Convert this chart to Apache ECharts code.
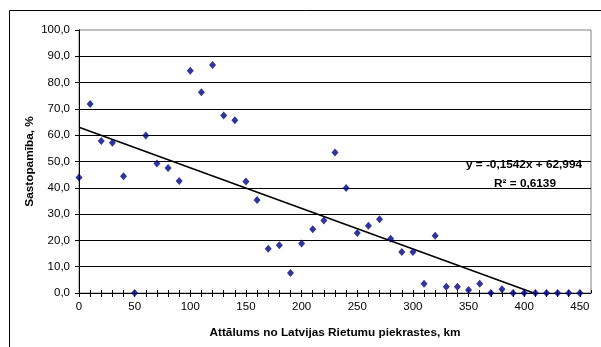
<!DOCTYPE html>
<html><head><meta charset="utf-8">
<script src="https://cdn.jsdelivr.net/npm/echarts@6/dist/echarts.min.js"></script>
<style>html,body{margin:0;padding:0;background:#fff}#c{width:601px;height:347px}</style>
</head><body><div id="c"></div>
<script>
const distances = [0,10,20,30,40,50,60,70,80,90,100,110,120,130,140,150,160,170,180,190,200,210,220,230,240,250,260,270,280,290,300,310,320,330,340,350,360,370,380,390,400,410,420,430,440,450];
const occurrence = [43.9,71.9,57.8,57.1,44.4,0,59.9,49.2,47.5,42.6,84.5,76.3,86.7,67.5,65.7,42.4,35.4,16.8,18.2,7.6,18.8,24.2,27.6,53.4,39.9,22.8,25.6,28.0,20.6,15.6,15.6,3.5,21.8,2.4,2.4,1.1,3.5,0,1.4,0,0,0,0,0,0,0];
const xTickLabels = ['0','50','100','150','200','250','300','350','400','450'];
const trendSlope = -0.1542;
const trendIntercept = 62.994;
const trendR2 = '0,6139';
const equationText = 'y = -0,1542x + 62,994';
const xTitle = 'Attālums no Latvijas Rietumu piekrastes, km';
const yTitle = 'Sastopamība, %';

const FONT = '"Liberation Sans", Arial, sans-serif';
const points = distances.map((d, i) => [d, occurrence[i]]);
const xZero = -trendIntercept / trendSlope;
const trendData = [[0, trendIntercept], [xZero, 0]];

const chart = echarts.init(document.getElementById('c'), null, {renderer: 'canvas'});
chart.setOption({
  animation: false,
  backgroundColor: '#fff',
  grid: {left: 79, right: 10, top: 30, bottom: 54, show: true, borderColor: '#808080', borderWidth: 1, backgroundColor: 'transparent'},
  xAxis: [{
    type: 'value', min: 0, max: 460, interval: 10,
    axisLine: {show: true, onZero: false, lineStyle: {color: '#000', width: 1}},
    axisTick: {show: true, length: 4, inside: false, lineStyle: {color: '#000'}},
    axisLabel: {
      margin: 8, color: '#000', fontFamily: FONT, fontSize: 11.5,
      showMaxLabel: false,
      formatter: v => (v % 50 === 0 && xTickLabels.indexOf(String(v)) >= 0) ? String(v) : ''
    },
    splitLine: {show: false},
    name: xTitle, nameLocation: 'middle', nameGap: 34, nameMoveOverlap: false,
    nameTextStyle: {fontFamily: FONT, fontSize: 11.8, fontWeight: 'bold', color: '#000'}
  }, {
    type: 'value', min: 0, max: 460, interval: 10, position: 'bottom',
    axisLine: {show: false, onZero: false},
    axisTick: {show: true, length: 3, inside: true, lineStyle: {color: '#000'}},
    axisLabel: {show: false},
    splitLine: {show: false}
  }],
  yAxis: {
    type: 'value', min: 0, max: 100, interval: 10,
    axisLine: {show: true, onZero: false, lineStyle: {color: '#000', width: 1}},
    axisTick: {show: true, length: 4, lineStyle: {color: '#000'}},
    axisLabel: {margin: 9, color: '#000', fontFamily: FONT, fontSize: 11.5,
      formatter: v => v.toFixed(1).replace('.', ',')},
    splitLine: {show: true, showMaxLine: false, lineStyle: {color: '#000', width: 1}},
    name: yTitle, nameLocation: 'middle', nameGap: 43, nameMoveOverlap: false,
    nameTextStyle: {fontFamily: FONT, fontSize: 11.8, fontWeight: 'bold', color: '#000'}
  },
  series: [{
    type: 'line', data: trendData, xAxisIndex: 0, showSymbol: false, symbol: 'none',
    lineStyle: {color: '#000', width: 1.6}, z: 3, silent: true
  }, {
    type: 'scatter', data: points, xAxisIndex: 0, symbol: 'diamond', symbolSize: [7, 8],
    itemStyle: {color: '#000080'}, clip: false, z: 4
  }],
  graphic: [{
    type: 'rect', shape: {x: 9.5, y: 10.5, width: 700, height: 500},
    style: {fill: 'none', stroke: '#000', lineWidth: 1}, z: 100
  }, {
    type: 'text', x: 582, y: 165,
    style: {text: equationText, align: 'right', verticalAlign: 'middle', fontFamily: FONT, fontSize: 11.8, fontWeight: 'bold', fill: '#000'}, z: 100
  }, {
    type: 'text', x: 525, y: 184,
    style: {text: 'R² = ' + trendR2, align: 'center', verticalAlign: 'middle', fontFamily: FONT, fontSize: 11.8, fontWeight: 'bold', fill: '#000'}, z: 100
  }]
});
</script></body></html>
